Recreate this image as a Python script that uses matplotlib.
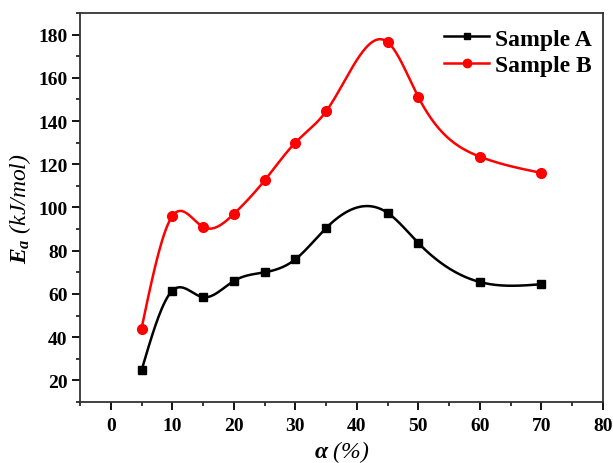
import numpy as np
import matplotlib.pyplot as plt

# data
alpha = [5, 10, 15, 20, 25, 30, 35, 45, 50, 60, 70]
ea_a = [24.6, 61.5, 58.5, 66.0, 70.0, 76.0, 90.5, 97.5, 83.5, 65.5, 64.5]
ea_b = [44.0, 96.0, 91.0, 97.0, 112.5, 130.0, 144.5, 176.5, 151.0, 123.5, 116.0]


def natural_spline(x, y, n=400):
    """Spline cubico natural (como la conexion 'Spline' de Origin)."""
    x = np.asarray(x, float)
    y = np.asarray(y, float)
    k = len(x)
    h = np.diff(x)
    A = np.zeros((k, k))
    r = np.zeros(k)
    A[0, 0] = A[-1, -1] = 1.0
    for i in range(1, k - 1):
        A[i, i - 1] = h[i - 1]
        A[i, i] = 2 * (h[i - 1] + h[i])
        A[i, i + 1] = h[i]
        r[i] = 6 * ((y[i + 1] - y[i]) / h[i] - (y[i] - y[i - 1]) / h[i - 1])
    M = np.linalg.solve(A, r)
    xs = np.linspace(x[0], x[-1], n)
    idx = np.clip(np.searchsorted(x, xs) - 1, 0, k - 2)
    x0, x1 = x[idx], x[idx + 1]
    hh = x1 - x0
    a = (x1 - xs) / hh
    b = (xs - x0) / hh
    ys = (a * y[idx] + b * y[idx + 1]
          + ((a ** 3 - a) * M[idx] + (b ** 3 - b) * M[idx + 1]) * hh ** 2 / 6)
    return xs, ys


plt.rcParams['font.family'] = ['Liberation Serif', 'DejaVu Serif']
plt.rcParams['font.weight'] = 'bold'
plt.rcParams['mathtext.fontset'] = 'custom'
plt.rcParams['mathtext.it'] = 'Liberation Serif:italic:bold'
plt.rcParams['mathtext.rm'] = 'Liberation Serif:bold'

fig = plt.figure(figsize=(6.13, 4.64), dpi=100)
ax = fig.add_axes([0.1305, 0.1315, 0.8532, 0.8384])

for ys, col, mk, lab in [(ea_a, 'black', 's', 'Sample A'),
                         (ea_b, 'red', 'o', 'Sample B')]:
    sx, sy = natural_spline(alpha, ys)
    ax.plot(sx, sy, color=col, lw=1.8)
    ax.plot(alpha, ys, ls='none', marker=mk, color=col, ms=6 if mk == 's' else 7)
    ax.plot([], [], color=col, lw=1.8, marker=mk, ms=5 if mk == 's' else 6, label=lab)

ax.set_xlim(-5, 80)
ax.set_ylim(10, 190)
ax.set_xticks(range(0, 81, 10))
ax.set_xticks(range(-5, 81, 5), minor=True)
ax.set_yticks(range(20, 181, 20))
ax.set_yticks(range(10, 191, 10), minor=True)
ax.tick_params(which='major', direction='out', length=6, width=1.3, labelsize=14)
ax.tick_params(axis='x', which='major', pad=5)
ax.tick_params(axis='y', which='major', pad=3)
ax.tick_params(which='minor', direction='out', length=3, width=1.1)
for s in ax.spines.values():
    s.set_linewidth(1.3)
    s.set_color('#333333')

ax.set_xlabel(r'$\alpha$ (%)', fontsize=17, style='italic', labelpad=3)
ax.set_ylabel(r'$E_a$ (kJ/mol)', fontsize=17, style='italic', labelpad=4)

ax.legend(loc='upper right', bbox_to_anchor=(592 / 613, 1 - 29 / 464),
          bbox_transform=fig.transFigure, frameon=False, fontsize=17,
          handlelength=1.9, handletextpad=0.25, borderpad=0, borderaxespad=0,
          labelspacing=0.2)

fig.savefig('out.png', dpi=100)
